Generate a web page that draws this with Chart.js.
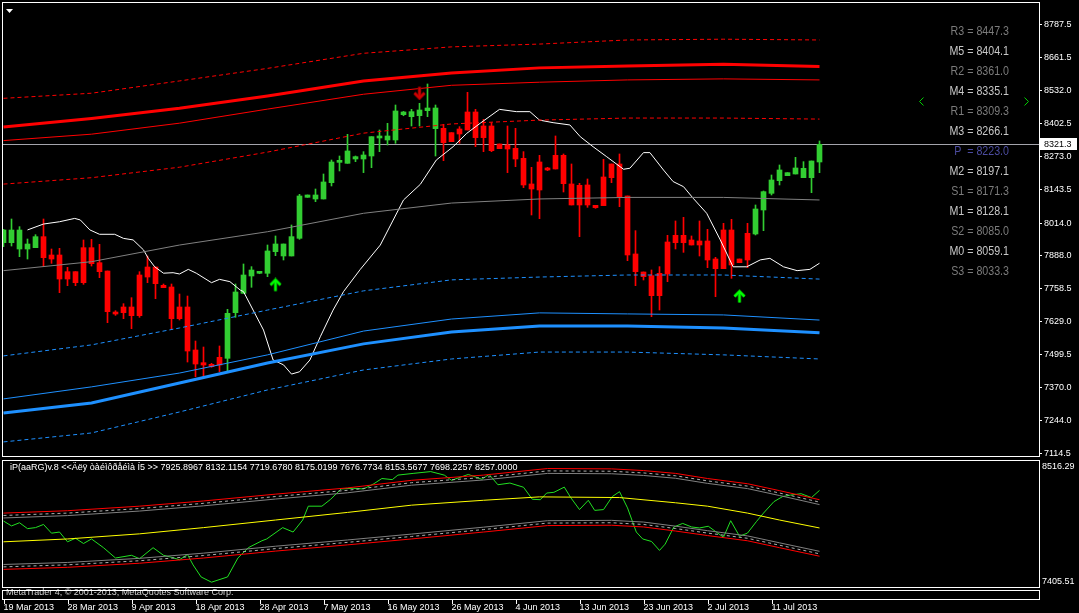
<!DOCTYPE html>
<html lang="en">
<head>
<meta charset="UTF-8">
<title>MT4 Chart</title>
<script src="https://cdn.jsdelivr.net/npm/chart.js"></script>
<style>
  body { margin: 0; background: #000; width: 1079px; height: 613px; overflow: hidden; position: relative; }
  #main { position: absolute; left: 0; top: 0; width: 1079px; height: 458px; }
  #sub { position: absolute; left: 0; top: 458px; width: 1079px; height: 155px; }
</style>
</head>
<body>
<div id="main"><canvas id="mainChart"></canvas></div>
<div id="sub"><canvas id="subChart"></canvas></div>
<script>
// candles, one per bar (bar 0 = 19 Mar 2013)
const opens  = [7937.2,7937.2,7912.5,7912.5,7917.7,7960.7,7889.1,7889.1,7824.0,7824.0,7917.7,7917.7,7859.1,7826.6,7666.4,7686.0,7686.0,7811.0,7842.2,7842.2,7770.6,7764.1,7686.0,7686.0,7518.0,7468.5,7462.0,7489.4,7485.5,7663.9,7739.4,7807.1,7817.6,7817.6,7902.2,7885.3,7885.3,7954.3,8114.4,8107.9,8107.9,8171.7,8251.0,8247.2,8264.1,8264.1,8275.8,8346.2,8338.3,8338.3,8437.3,8429.5,8433.4,8452.9,8382.6,8383.9,8367.0,8381.3,8447.7,8447.7,8393.0,8393.0,8322.7,8318.8,8305.8,8266.7,8166.5,8252.4,8229.0,8278.4,8278.4,8166.5,8161.3,8162.6,8083.2,8193.8,8244.6,8244.6,8119.6,7893.1,7822.7,7808.4,7817.6,7939.9,7966.0,7966.0,7947.7,7943.8,7943.8,7873.5,7986.8,7986.8,7873.5,7973.8,7971.2,8064.9,8130.0,8179.5,8199.0,8205.5,8191.2,8191.2,8252.4];
const highs  = [7989.3,8029.7,7999.8,7951.6,7968.5,8029.7,7912.5,7915.1,7840.9,7824.0,7947.7,7950.3,7930.7,7826.6,7671.6,7699.0,7722.4,7824.0,7885.2,7842.2,7775.8,7775.8,7736.7,7728.9,7553.1,7529.7,7466.0,7533.7,7676.9,7775.9,7854.0,7843.6,7821.0,7928.2,7963.4,7932.1,8006.3,8126.1,8123.5,8146.9,8205.5,8260.2,8275.8,8360.5,8275.8,8292.8,8351.4,8377.4,8403.4,8475.0,8450.0,8458.1,8481.6,8557.1,8475.0,8399.5,8367.0,8390.4,8524.5,8458.1,8419.0,8406.0,8322.7,8393.0,8383.9,8292.8,8231.6,8278.4,8231.6,8354.0,8283.7,8244.6,8169.1,8186.0,8083.2,8262.8,8244.6,8283.7,8119.6,7984.2,7822.7,7830.6,7843.6,7966.0,8022.0,8036.3,7963.4,8022.0,7989.4,7880.0,8012.8,8028.5,7873.5,8012.8,8084.5,8139.1,8201.6,8240.7,8210.7,8270.6,8253.7,8256.3,8334.4];
const lows   = [7921.6,7924.2,7882.6,7873.4,7917.7,7843.5,7856.5,7741.9,7769.3,7769.3,7774.5,7846.1,7800.5,7624.8,7653.4,7640.4,7601.3,7645.6,7781.0,7718.5,7761.5,7600.0,7635.2,7471.1,7413.9,7413.9,7450.4,7433.5,7433.5,7645.7,7739.4,7762.9,7816.0,7804.5,7886.5,7869.6,7885.3,7950.4,8114.4,8097.5,8107.9,8158.7,8217.3,8247.2,8253.7,8210.8,8230.3,8292.8,8318.8,8325.3,8433.0,8393.0,8393.0,8429.5,8275.8,8257.6,8331.8,8325.3,8377.4,8312.3,8292.8,8292.8,8304.5,8210.8,8234.2,8152.2,8045.4,8031.1,8218.6,8225.1,8135.2,8084.5,7960.8,8075.3,8071.5,8081.9,8171.7,8077.9,7867.0,7769.4,7791.5,7648.3,7674.3,7785.0,7912.6,7899.5,7928.2,7885.2,7839.7,7726.4,7835.8,7798.0,7859.2,7839.7,7967.3,7984.2,8123.5,8162.6,8199.0,8205.5,8191.2,8132.6,8210.7];
const closes = [7986.7,7986.7,7986.7,7932.0,7960.7,7878.7,7873.4,7795.3,7795.3,7781.0,7781.0,7855.2,7824.0,7667.7,7658.6,7663.8,7652.1,7652.1,7803.1,7777.1,7761.5,7640.4,7640.4,7514.1,7463.3,7459.4,7453.0,7459.5,7661.3,7744.6,7811.0,7830.5,7819.5,7904.8,7932.1,7932.1,7960.8,8119.6,8123.5,8123.5,8174.3,8252.4,8253.7,8295.4,8273.2,8279.7,8351.4,8354.0,8354.0,8451.6,8447.7,8449.0,8455.5,8463.3,8463.3,8327.9,8331.8,8361.8,8377.4,8347.5,8347.5,8296.7,8304.5,8303.2,8264.1,8162.6,8146.9,8143.0,8221.2,8225.1,8167.8,8084.5,8084.5,8084.5,8074.1,8081.9,8191.2,8117.0,7889.2,7824.0,7804.5,7730.3,7730.3,7815.0,7937.3,7937.3,7928.2,7928.2,7869.6,7835.8,7835.8,7850.1,7859.2,7869.6,8068.8,8136.5,8182.1,8221.2,8210.7,8229.0,8227.7,8256.3,8321.3];
const lastPrice = 8321.3;

// price channel lines on the main chart
const chanX     = [0, 11, 22, 33, 45, 56, 67, 78, 90, 102];
const redOuter  = [8501, 8521, 8569, 8618, 8677, 8702, 8713, 8729, 8732, 8729];
const redThick  = [8389, 8422, 8462, 8510, 8569, 8600, 8620, 8627, 8634, 8625];
const redThin   = [8336, 8361, 8404, 8459, 8517, 8552, 8564, 8573, 8577, 8573];
const redInner  = [8166, 8191, 8232, 8291, 8365, 8401, 8416, 8424, 8424, 8420];
const greyMid   = [7828, 7863, 7928, 7980, 8052, 8092, 8108, 8114, 8114, 8104];
const blueInner = [7495, 7538, 7604, 7674, 7749, 7792, 7803, 7811, 7811, 7795];
const blueThin  = [7327, 7374, 7428, 7499, 7592, 7639, 7663, 7659, 7655, 7635];
const blueThick = [7272, 7311, 7389, 7467, 7542, 7588, 7612, 7612, 7604, 7585];
const blueOuter = [7159, 7194, 7276, 7362, 7440, 7483, 7510, 7510, 7499, 7483];

// white line
const whiteX = [3,5,7,8.9,9.6,10.8,12,13.9,15,16.2,17.5,18.1,18.9,20,21.2,22,23.1,24.1,26,27,28.3,29.6,30,31.2,32.5,33.7,35,36,37,38.3,39.6,41.2,42.5,43.3,44.6,47.1,50,52.1,54.1,56.2,57.9,59.6,62,64.1,65.8,67,68.7,70.8,72.1,73.7,75.4,77.5,78.3,80,80.8,82.5,83.7,85,86.2,87.9,89.6,91.2,92.9,94.6,95.8,97.5,99.2,100.8,102];
const whiteY = [7987,8010,8019,8032,8026,7987,7970,7970,7954,7948,7909,7876,7843,7818,7820,7815,7833,7818,7781,7794,7785,7752,7746,7674,7596,7479,7460,7424,7433,7479,7570,7674,7746,7779,7833,7928,8104,8165,8260,8312,8364,8404,8458,8449,8449,8416,8406,8397,8351,8312,8273,8224,8228,8289,8289,8221,8176,8156,8111,8052,7948,7843,7843,7870,7876,7843,7828,7833,7857];

// signal arrows
const upArrowX = [34, 92];
const upArrowY = [7772, 7727];
const downArrowX = [52];
const downArrowY = [8522];

// pivot table
const pivotNames  = ['R3', 'M5', 'R2', 'M4', 'R1', 'M3', 'P ', 'M2', 'S1', 'M1', 'S2', 'M0', 'S3'];
const pivotValues = [8447.3, 8404.1, 8361.0, 8335.1, 8309.3, 8266.1, 8223.0, 8197.1, 8171.3, 8128.1, 8085.0, 8059.1, 8033.3];

// axes
const yTicks = [8787.5, 8661.5, 8532.0, 8402.5, 8273.0, 8143.5, 8014.0, 7888.0, 7758.5, 7629.0, 7499.5, 7370.0, 7244.0, 7114.5];
const dateTicks  = [0, 8, 16, 24, 32, 40, 48, 56, 64, 72, 80, 88, 96];
const dateLabels = ['19 Mar 2013', '28 Mar 2013', '9 Apr 2013', '18 Apr 2013', '28 Apr 2013', '7 May 2013', '16 May 2013', '26 May 2013', '4 Jun 2013', '13 Jun 2013', '23 Jun 2013', '2 Jul 2013', '11 Jul 2013'];

// indicator window
const subMin = 7405.51, subMax = 8516.29;
const subTitle = 'iP(aaRG)v.8 <<Äëÿ òàéìôðåéìà Í5 >> 7925.8967 8132.1154 7719.6780 8175.0199 7676.7734 8153.5677 7698.2257 8257.0000';
const bandX      = [0, 8, 17, 25, 34, 43, 51, 60, 68, 76, 80, 84, 88, 93, 97, 102];
const subRedUp   = [8057, 8078, 8118, 8164, 8224, 8279, 8346, 8392, 8450, 8447, 8432, 8407, 8362, 8316, 8255, 8175];
const subGreyUp1 = [8036, 8057, 8097, 8143, 8203, 8258, 8325, 8371, 8429, 8426, 8411, 8386, 8341, 8295, 8234, 8154];
const subGreyUp2 = [8014, 8035, 8075, 8121, 8181, 8236, 8303, 8349, 8407, 8404, 8389, 8364, 8319, 8273, 8212, 8132];
const subRedDn   = [7561, 7579, 7615, 7661, 7722, 7777, 7829, 7890, 7947, 7950, 7935, 7899, 7859, 7813, 7752, 7677];
const subGreyDn1 = [7583, 7601, 7637, 7683, 7744, 7799, 7851, 7912, 7969, 7972, 7957, 7921, 7881, 7835, 7774, 7698];
const subGreyDn2 = [7604, 7622, 7658, 7704, 7765, 7820, 7872, 7933, 7990, 7993, 7978, 7942, 7902, 7856, 7795, 7720];
const yellowX = [0, 8, 17, 25, 34, 43, 51, 60, 67, 77, 84, 88, 93, 97, 102];
const yellowY = [7804, 7829, 7874, 7929, 7996, 8063, 8127, 8170, 8200, 8194, 8148, 8118, 8057, 7996, 7926];
const greenX = [0,1,2,3,4,5,6,7,8,9,10,11,12.5,14,16,17,18.7,20,21,22,23,23.7,24.7,26,28,29.3,30.6,32.3,32.9,34.9,36.2,37.4,38.1,39.8,40.9,42.2,43.7,45,46.3,47.3,48.6,49.3,51.2,53.4,55.1,56,58.1,59.8,60.7,61.8,63.3,65,66.1,67.1,67.9,68.8,70.1,70.9,72,73.1,73.9,75,76.1,77,78,79.1,79.9,81,82,82.7,83.8,84.9,86,87,88.1,90,90.9,92,93,94.1,95,96.3,97.4,98.4,99.7,101,102];
const greenY = [7987,7944,7972,7920,7929,7957,7880,7890,7804,7835,7789,7829,7752,7661,7685,7655,7752,7685,7667,7646,7692,7600,7494,7448,7494,7661,7752,7813,7829,7929,7890,7996,8118,8118,8179,8270,8276,8270,8316,8362,8352,8392,8407,8423,8392,8346,8398,8355,8398,8307,8322,8285,8179,8175,8234,8240,8286,8194,8088,8170,8081,8088,8203,8246,8103,7890,7829,7807,7728,7783,7935,7966,7935,7926,7941,7844,7990,7853,7881,7981,8057,8158,8203,8216,8228,8194,8257];

const xMin = -0.0625, xMax = 129.4375;
const FONT = 'Liberation Sans, Arial, sans-serif';
Chart.defaults.font.family = FONT;
Chart.defaults.font.size = 9;
Chart.defaults.color = '#fff';

const pts = (xs, ys) => xs.map((x, i) => ({ x: x, y: ys[i] }));
const idx = opens.map((_, i) => i);
const upColor = '#32cd32', downColor = '#ff0000';
const candleColor = ctx => {
  const i = ctx.dataIndex;
  return closes[i] >= opens[i] ? upColor : downColor;
};
// drop the automatic label padding so the plot area sits where we put it
const noPad = s => { s.paddingLeft = 0; s.paddingRight = 0; s.paddingTop = 0; s.paddingBottom = 0; };

function arrowImage(fill, edge, down) {
  const c = document.createElement('canvas');
  c.width = 13; c.height = 15;
  const g = c.getContext('2d');
  if (down) { g.translate(0, 15); g.scale(1, -1); }
  [[edge, 3.6], [fill, 2]].forEach(([col, w]) => {
    g.strokeStyle = col; g.lineWidth = w;
    g.beginPath();
    g.moveTo(6.5, 2.5); g.lineTo(6.5, 13.5);
    g.moveTo(1.5, 7.5); g.lineTo(6.5, 2.5); g.lineTo(11.5, 7.5);
    g.stroke();
  });
  return c;
}

function line(data, color, width, dash) {
  return {
    type: 'line', data: data, borderColor: color, borderWidth: width,
    borderDash: dash || [], pointRadius: 0, tension: 0, fill: false, order: 0
  };
}

const mainDecor = {
  id: 'mainDecor',
  beforeDatasetsDraw(chart) {
    const { ctx, chartArea: a, scales: { y } } = chart;
    const py = Math.round(y.getPixelForValue(lastPrice)) + 0.5;
    ctx.save();
    ctx.strokeStyle = '#a4a4ac';
    ctx.lineWidth = 1;
    ctx.beginPath(); ctx.moveTo(a.left, py); ctx.lineTo(a.right, py); ctx.stroke();
    ctx.restore();
  },
  afterDraw(chart) {
    const { ctx, chartArea: a, scales: { y } } = chart;
    ctx.save();
    // frame
    ctx.strokeStyle = '#fff'; ctx.lineWidth = 1;
    ctx.strokeRect(a.left - 0.5, a.top - 0.5, a.right - a.left + 1, a.bottom - a.top + 1);
    // last price box on the axis
    const py = Math.round(y.getPixelForValue(lastPrice));
    ctx.fillStyle = '#fff';
    ctx.fillRect(a.right + 1, py - 6, 37, 12);
    ctx.fillStyle = '#000';
    ctx.font = '9px ' + FONT;
    ctx.textBaseline = 'middle';
    ctx.fillText(lastPrice.toFixed(1), a.right + 5, py + 0.5);
    // pivot table
    ctx.font = '13px ' + FONT;
    ctx.textAlign = 'right';
    pivotNames.forEach((n, i) => {
      const c = n[0] === 'M' ? '#c8c8c8' : (n[0] === 'P' ? '#4c4ca0' : '#7c7c7c');
      ctx.save();
      ctx.translate(1009, 31 + i * 20);
      ctx.scale(0.82, 1);
      ctx.fillStyle = c;
      ctx.fillText(n + ' = ' + pivotValues[i].toFixed(1), 0, 0);
      ctx.restore();
    });
    // chevrons
    ctx.strokeStyle = '#00d000';
    ctx.beginPath();
    ctx.moveTo(923.5, 97.5); ctx.lineTo(919.5, 101.5); ctx.lineTo(923.5, 105.5);
    ctx.moveTo(1024.5, 97.5); ctx.lineTo(1028.5, 101.5); ctx.lineTo(1024.5, 105.5);
    ctx.stroke();
    // menu triangle
    ctx.fillStyle = '#fff';
    ctx.beginPath(); ctx.moveTo(6, 9); ctx.lineTo(13, 9); ctx.lineTo(9.5, 13); ctx.closePath(); ctx.fill();
    ctx.restore();
  }
};

new Chart(document.getElementById('mainChart'), {
  type: 'bar',
  data: {
    datasets: [
      line(pts(chanX, redOuter), '#ff0000', 1, [4, 3]),
      line(pts(chanX, redThick), '#ff0000', 3),
      line(pts(chanX, redThin), '#ff0000', 1),
      line(pts(chanX, redInner), '#ff0000', 1, [4, 3]),
      line(pts(chanX, greyMid), '#808080', 1),
      line(pts(chanX, blueInner), '#1e90ff', 1, [4, 3]),
      line(pts(chanX, blueThin), '#1e90ff', 1),
      line(pts(chanX, blueThick), '#1e90ff', 3),
      line(pts(chanX, blueOuter), '#1e90ff', 1, [4, 3]),
      line(pts(whiteX, whiteY), '#ffffff', 1),
      {
        type: 'scatter', data: pts(upArrowX, upArrowY), order: -1,
        pointStyle: arrowImage('#00ff00', '#008000', false), pointRadius: 7
      },
      {
        type: 'scatter', data: pts(downArrowX, downArrowY), order: -1,
        pointStyle: arrowImage('#d00000', '#800000', true), pointRadius: 7
      },
      {
        type: 'bar', data: idx.map(i => ({ x: i, y: [lows[i], highs[i]] })),
        backgroundColor: candleColor, barThickness: 1, grouped: false, order: 2
      },
      {
        type: 'bar', data: idx.map(i => ({ x: i, y: [opens[i], closes[i]] })),
        backgroundColor: candleColor, barThickness: 5, grouped: false, minBarLength: 2, order: 1
      }
    ]
  },
  options: {
    responsive: true,
    maintainAspectRatio: false,
    animation: false,
    events: [],
    layout: { autoPadding: false, padding: { top: 3, left: 3, right: 0, bottom: 2 } },
    plugins: { legend: { display: false }, tooltip: { enabled: false } },
    scales: {
      x: { type: 'linear', min: xMin, max: xMax, offset: false, display: false },
      y: {
        position: 'right', min: 7104, max: 8873.4,
        afterFit: s => { s.width = 40; noPad(s); },
        afterBuildTicks: s => { s.ticks = yTicks.map(v => ({ value: v })); },
        grid: { drawOnChartArea: false, color: '#fff', tickLength: 3 },
        border: { display: false },
        ticks: { color: '#fff', padding: 2, callback: v => Number(v).toFixed(1) }
      }
    }
  },
  plugins: [mainDecor]
});

const subDecor = {
  id: 'subDecor',
  afterDraw(chart) {
    const { ctx, chartArea: a, scales: { x } } = chart;
    ctx.save();
    ctx.strokeStyle = '#fff'; ctx.lineWidth = 1;
    ctx.font = '9px ' + FONT;
    ctx.textBaseline = 'middle';
    // copyright line, partly covered by the time scale strip
    ctx.fillStyle = '#d0d0d0';
    ctx.fillText('MetaTrader 4, © 2001-2013, MetaQuotes Software Corp.', 6, a.bottom + 6);
    ctx.strokeRect(a.left - 0.5, a.top - 0.5, a.right - a.left + 1, a.bottom - a.top + 1);
    ctx.fillStyle = '#fff';
    ctx.fillText(subTitle, 10, a.top + 7);
    ctx.fillText(subMax.toFixed(2), a.right + 3, a.top + 6);
    ctx.fillText(subMin.toFixed(2), a.right + 3, a.bottom - 5.5);
    // time scale strip
    ctx.strokeRect(a.left - 0.5, a.bottom + 3.5, a.right - a.left + 1, 9);
    ctx.beginPath();
    dateTicks.forEach(t => {
      const px = Math.round(x.getPixelForValue(t)) + 0.5;
      ctx.moveTo(px, a.bottom + 13); ctx.lineTo(px, a.bottom + 17);
    });
    ctx.stroke();
    ctx.restore();
  }
};

new Chart(document.getElementById('subChart'), {
  type: 'line',
  data: {
    datasets: [
      line(pts(bandX, subGreyUp2), '#808080', 1),
      line(pts(bandX, subGreyUp1), '#b0b0b0', 1, [3, 3]),
      line(pts(bandX, subGreyDn2), '#808080', 1),
      line(pts(bandX, subGreyDn1), '#b0b0b0', 1, [3, 3]),
      line(pts(bandX, subRedUp), '#ff0000', 1),
      line(pts(bandX, subRedDn), '#ff0000', 1),
      line(pts(yellowX, yellowY), '#ffff00', 1),
      line(pts(greenX, greenY), '#22e022', 1)
    ]
  },
  options: {
    responsive: true,
    maintainAspectRatio: false,
    animation: false,
    events: [],
    layout: { autoPadding: false, padding: { top: 3, left: 3, right: 40, bottom: 0 } },
    plugins: { legend: { display: false }, tooltip: { enabled: false } },
    scales: {
      x: {
        type: 'linear', min: xMin, max: xMax, offset: false,
        afterFit: s => { s.height = 26; noPad(s); },
        afterBuildTicks: s => { s.ticks = dateTicks.map(v => ({ value: v })); },
        grid: { display: false, drawTicks: false },
        border: { display: false },
        ticks: { color: '#fff', align: 'start', padding: 15.5, maxRotation: 0, autoSkip: false,
                 callback: (v, i) => dateLabels[i] }
      },
      y: { display: false, min: subMin, max: subMax }
    }
  },
  plugins: [subDecor]
});
</script>
</body>
</html>
